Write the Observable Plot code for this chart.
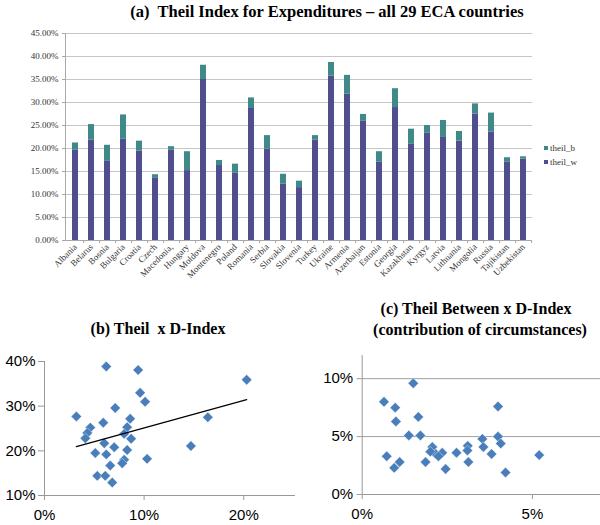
<!DOCTYPE html>
<html>
<head>
<meta charset="utf-8">
<script src="https://cdn.jsdelivr.net/npm/d3@7"></script>
<script src="https://cdn.jsdelivr.net/npm/@observablehq/plot@0.6"></script>
<style>
  html, body { margin: 0; padding: 0; background: #fff; }
  #root { position: relative; width: 600px; height: 525px; overflow: hidden; background: #fff; }
  .title { position: absolute; font-family: "Liberation Serif", "Times New Roman", serif; font-weight: bold; white-space: pre; transform: translateX(-50%); line-height: 1; color: #000; }
  .leg { position: absolute; font-family: "Liberation Serif", serif; font-size: 9px; color: #333; line-height: 1; white-space: nowrap; }
  .leg span { display: inline-block; width: 4px; height: 4px; margin-right: 2px; vertical-align: 1px; }
</style>
</head>
<body>
<div id="root"></div>
<script>
// ---------- Panel (a) data ----------
const countries = ["Albania","Belarus","Bosnia","Bulgaria","Croatia","Czech","Macedonia,","Hungary","Moldova","Montenegro","Poland","Romania","Serbia","Slovakia","Slovenia","Turkey","Ukraine","Armenia","Azerbaijan","Estonia","Georgia","Kazakhstan","Kyrgyz","Latvia","Lithuania","Mongolia","Russia","Tajikistan","Uzbekistan"];
const theilW = [19.6,21.8,17.2,22.0,19.4,13.5,19.6,15.2,35.0,16.3,14.6,28.7,19.9,12.3,11.5,21.8,35.7,31.8,25.9,17.0,28.9,20.9,23.3,22.4,21.6,27.5,23.6,17.1,17.7];
const theilB = [1.6,3.4,3.5,5.3,2.2,0.8,0.8,4.1,3.1,1.1,2.0,2.3,2.9,2.1,1.4,1.0,3.0,4.1,1.5,2.3,4.1,3.3,1.7,3.7,2.1,2.2,4.1,0.9,0.5];
const seriesNames = ["theil_b","theil_w"];
const yTicksA = [0,0.05,0.10,0.15,0.20,0.25,0.30,0.35,0.40,0.45];

// ---------- Panel (b) data: D-Index (x, %) vs Theil (y, %) ----------
const bDIndex = [6.2,9.4,20.3,9.6,10.1,7.1,3.2,16.4,8.6,5.9,4.6,4.3,4.1,8.3,8.0,8.7,6.0,7.0,14.7,5.1,6.2,8.3,8.0,7.8,10.3,6.6,5.3,6.1,6.8];
const bTheil  = [38.9,38.1,35.9,33.0,31.0,29.6,27.7,27.5,27.2,26.3,25.2,24.0,22.8,25.3,23.8,22.7,21.7,20.8,21.1,19.5,19.2,20.2,18.0,17.2,18.2,16.7,14.4,14.4,12.9];
const bXTicks = [0,0.10,0.20];
const bYTicks = [0.10,0.20,0.30,0.40];

// ---------- Panel (c) data: Theil Between (x, %) vs D-Index (y, %) ----------
const cX = [0.64,1.50,0.97,0.99,1.65,1.37,1.71,3.99,3.99,3.53,4.07,0.72,0.94,1.10,1.86,2.06,2.16,2.35,2.24,2.00,2.45,2.77,3.10,3.09,3.12,3.56,3.80,4.21,5.20];
const cY = [8.0,9.6,7.5,6.3,6.7,5.1,5.1,7.6,5.0,4.8,4.4,3.3,2.3,2.8,2.8,4.1,3.5,3.6,3.3,3.7,2.2,3.6,4.2,3.8,2.8,4.1,3.5,1.9,3.4];
const cXTicks = [0,0.05];
const cYTicks = [0,0.05,0.10];

const colW = "#504e8e", colB = "#3f8a89", dotCol = "#4a7ebb";
const root = document.getElementById("root");

function place(el, left, top) {
  el.style.position = "absolute";
  el.style.left = left + "px";
  el.style.top = top + "px";
  root.appendChild(el);
}

// ---------- Panel (a) ----------
const rowsA = [];
countries.forEach((c, i) => rowsA.push({country: c, series: "theil_w", value: theilW[i] / 100}));
countries.forEach((c, i) => rowsA.push({country: c, series: "theil_b", value: theilB[i] / 100}));

const aWidth = 600, aML = 65, aMR = 68, padIn = 0.63, padOut = 0.25;
const aStep = (aWidth - aML - aMR) / (countries.length - padIn + 2 * padOut);

const plotA = Plot.plot({
  width: aWidth, height: 305,
  marginTop: 33, marginBottom: 65, marginLeft: aML, marginRight: aMR,
  style: {fontFamily: "Liberation Serif, serif", fontSize: "9px", color: "#333", background: "transparent"},
  x: {domain: countries, paddingInner: padIn, paddingOuter: padOut, label: null},
  y: {domain: [0, 0.45], label: null},
  color: {domain: seriesNames, range: [colB, colW]},
  marks: [
    Plot.gridY(yTicksA, {stroke: "#c6c6c6", strokeOpacity: 1}),
    Plot.frame({anchor: "left", stroke: "#a8a8a8"}),
    Plot.axisY(yTicksA, {tickFormat: d3.format(".2%"), tickSize: 3, tickPadding: 4, stroke: "#a8a8a8", label: null}),
    Plot.barY(rowsA, {x: "country", y: "value", fill: "series", order: ["theil_w", "theil_b"]}),
    Plot.ruleY([0], {stroke: "#a8a8a8"}),
    Plot.axisX({tickSize: 3, text: null, dx: aStep / 2, stroke: "#a8a8a8", label: null}),
    Plot.axisX({tickRotate: -45, tickSize: 0, tickPadding: 5, label: null})
  ]
});
place(plotA, 0, 0);

// legend
const legB = document.createElement("div");
legB.className = "leg";
legB.innerHTML = `<span style="background:${colB}"></span>theil_b`;
place(legB, 544, 144);
const legW = document.createElement("div");
legW.className = "leg";
legW.innerHTML = `<span style="background:${colW}"></span>theil_w`;
place(legW, 544, 158);

// ---------- Panel (b) ----------
const bData = bDIndex.map((d, i) => ({x: d / 100, y: bTheil[i] / 100}));
const plotB = Plot.plot({
  width: 300, height: 185,
  marginTop: 21, marginBottom: 30, marginLeft: 44, marginRight: 5,
  style: {fontFamily: "Liberation Sans, Arial, sans-serif", fontSize: "15px", color: "#000", background: "transparent"},
  x: {domain: [0, 0.252], label: null},
  y: {domain: [0.10, 0.40], label: null},
  marks: [
    Plot.ruleX([0], {stroke: "#999"}),
    Plot.ruleY([0.10], {stroke: "#999"}),
    Plot.axisY(bYTicks, {tickFormat: d3.format(".0%"), tickSize: 6, tickPadding: 3, stroke: "#999", label: null}),
    Plot.axisX(bXTicks, {tickFormat: d3.format(".0%"), tickSize: 5, tickPadding: 9, stroke: "#999", label: null}),
    Plot.dot(bData, {x: "x", y: "y", symbol: "diamond2", r: 4.7, fill: dotCol, stroke: "#fff", strokeWidth: 0.4}),
    Plot.linearRegressionY(bData, {x: "x", y: "y", ci: 0, stroke: "#000", strokeWidth: 1.2})
  ]
});
place(plotB, 0, 340);

// ---------- Panel (c) ----------
const cData = cX.map((d, i) => ({x: d / 100, y: cY[i] / 100}));
const plotC = Plot.plot({
  width: 300, height: 185,
  marginTop: 15, marginBottom: 31, marginLeft: 61.7, marginRight: 0,
  style: {fontFamily: "Liberation Sans, Arial, sans-serif", fontSize: "15px", color: "#000", background: "transparent"},
  x: {domain: [0, 0.07], label: null},
  y: {domain: [0, 0.12], label: null},
  marks: [
    Plot.gridY([0.05, 0.10], {stroke: "#a0a0a0", strokeOpacity: 1}),
    Plot.ruleX([0], {stroke: "#999"}),
    Plot.ruleY([0], {stroke: "#999"}),
    Plot.axisY(cYTicks, {tickFormat: d3.format(".0%"), tickSize: 5, tickPadding: 4, stroke: "#999", label: null}),
    Plot.axisX(cXTicks, {tickFormat: d3.format(".0%"), tickSize: 5, tickPadding: 9, stroke: "#999", label: null}),
    Plot.dot(cData, {x: "x", y: "y", symbol: "diamond2", r: 4.7, fill: dotCol, stroke: "#fff", strokeWidth: 0.4})
  ]
});
place(plotC, 300, 340);

// ---------- Titles ----------
function title(text, cx, top, size) {
  const t = document.createElement("div");
  t.className = "title";
  t.textContent = text;
  t.style.left = cx + "px";
  t.style.top = top + "px";
  t.style.fontSize = size + "px";
  root.appendChild(t);
}
title("(a)  Theil Index for Expenditures \u2013 all 29 ECA countries", 327, 4, 16.5);
title("(b) Theil  x D-Index", 158, 321, 16);
title("(c) Theil Between x D-Index", 476, 301, 16);
title("(contribution of circumstances)", 480, 322, 16);
</script>
</body>
</html>
